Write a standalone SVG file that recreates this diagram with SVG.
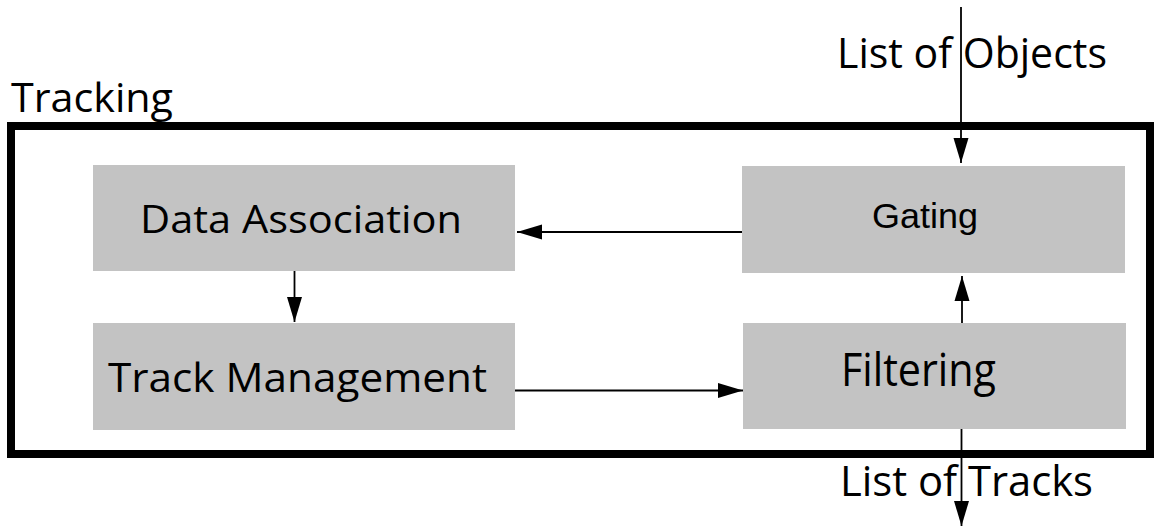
<svg xmlns="http://www.w3.org/2000/svg" width="1154" height="526" viewBox="0 0 1154 526">
  <style>
    .box { fill: #c3c3c3; }
    .cal { font-family: "Open Sans", "Noto Sans", sans-serif; fill: #000; }
    .ari { font-family: "Liberation Sans", Arial, sans-serif; fill: #000; }
    .conn { stroke: #000; stroke-width: 1.8; fill: none; marker-end: url(#arrow); }
  </style>
  <defs>
    <marker id="arrow" markerUnits="userSpaceOnUse" markerWidth="26" markerHeight="16" refX="25" refY="8" orient="auto" viewBox="0 0 26 16">
      <path d="M0,0.5 L25,8 L0,15.5 z" fill="#000"/>
    </marker>
  </defs>
  <rect x="0" y="0" width="1154" height="526" fill="#fff"/>

  <g id="tracking">
    <rect x="11" y="126" width="1139" height="328" fill="none" stroke="#000" stroke-width="8"/>
    <text class="cal" x="11" y="112" font-size="40" textLength="162" lengthAdjust="spacingAndGlyphs">Tracking</text>
  </g>

  <g id="data-association">
    <rect class="box" x="93" y="165" width="422" height="106"/>
    <text class="cal" x="140" y="233" font-size="39" textLength="322" lengthAdjust="spacingAndGlyphs">Data Association</text>
  </g>

  <g id="track-management">
    <rect class="box" x="93" y="323" width="422" height="107"/>
    <text class="cal" x="108" y="392" font-size="40" textLength="379" lengthAdjust="spacingAndGlyphs">Track Management</text>
  </g>

  <g id="gating">
    <rect class="box" x="742" y="166" width="383" height="107"/>
    <text class="ari" x="872" y="228" font-size="35" textLength="106" lengthAdjust="spacingAndGlyphs">Gating</text>
  </g>

  <g id="filtering">
    <rect class="box" x="743" y="323" width="383" height="106"/>
    <text class="cal" x="841" y="386" font-size="45" textLength="155" lengthAdjust="spacingAndGlyphs">Filtering</text>
  </g>

  <g id="labels">
    <text class="cal" x="837" y="68" font-size="42" textLength="270" lengthAdjust="spacingAndGlyphs">List of Objects</text>
    <text class="cal" x="840" y="496" font-size="42" textLength="253" lengthAdjust="spacingAndGlyphs">List of Tracks</text>
  </g>

  <g id="connectors">
    <line class="conn" x1="961" y1="7" x2="961" y2="163"/>
    <line class="conn" x1="742" y1="232" x2="517" y2="232"/>
    <line class="conn" x1="294.5" y1="271" x2="294.5" y2="322"/>
    <line class="conn" x1="515" y1="390.5" x2="743" y2="390.5"/>
    <line class="conn" x1="962" y1="323" x2="962" y2="276"/>
    <line class="conn" x1="961.5" y1="429" x2="961.5" y2="526"/>
  </g>
</svg>
